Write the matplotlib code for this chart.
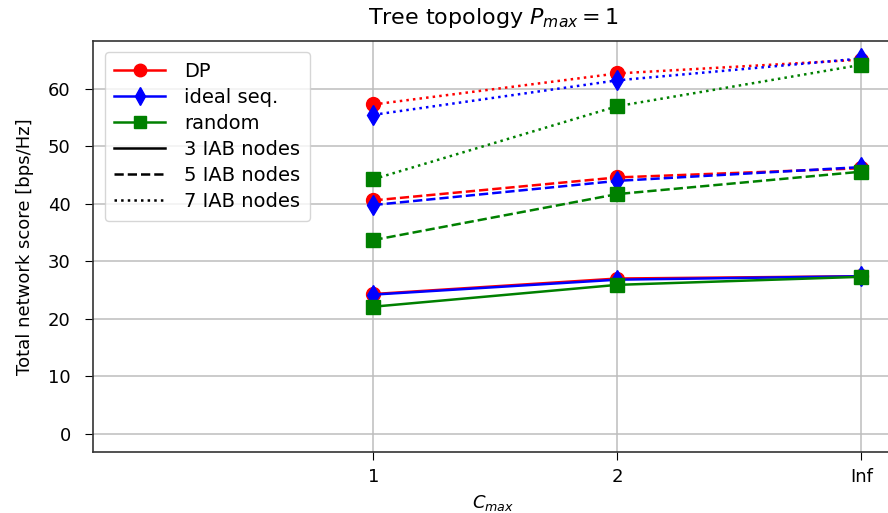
import numpy as np
import matplotlib
matplotlib.use('Agg')
import matplotlib.pyplot as plt
from matplotlib.lines import Line2D

cmax_labels = ['1', '2', 'Inf']
node_counts = [3, 5, 7]

# total network score per method, one list per IAB node count
dp = {3: [24.3, 27.0, 27.4], 5: [40.6, 44.6, 46.2], 7: [57.3, 62.7, 65.1]}
ideal = {3: [24.2, 26.8, 27.4], 5: [39.8, 44.0, 46.4], 7: [55.5, 61.5, 65.3]}
rnd = {3: [22.1, 25.9, 27.3], 5: [33.7, 41.7, 45.6], 7: [44.3, 57.0, 64.2]}

methods = [('DP', dp, 'red', 'o'),
           ('ideal seq.', ideal, 'blue', 'd'),
           ('random', rnd, 'green', 's')]
styles = {3: '-', 5: '--', 7: ':'}

fig = plt.figure(figsize=(8.88, 5.13), dpi=100)
ax = fig.add_axes([0.1047, 0.1183, 0.9010, 0.8024])

x = np.arange(len(cmax_labels))
for name, data, color, marker in methods:
    for n in node_counts:
        ax.plot(x, data[n], linestyle=styles[n], color=color, marker=marker,
                markersize=10, linewidth=1.8)

ax.set_xticks(x)
ax.set_xticklabels(cmax_labels)
ax.set_xlim(-1.15, 2.13)
ax.set_ylim(-3.25, 68.4)
ax.set_yticks(np.arange(0, 61, 10))
ax.tick_params(labelsize=13, length=6, pad=5)
ax.tick_params(axis='y', pad=10)
ax.grid(True, color='#bdbdbd', linewidth=1.1)
for s in ax.spines.values():
    s.set_linewidth(1.2)
    s.set_color('#333333')
ax.set_xlabel('$C_{max}$', fontsize=13, labelpad=5)
ax.set_ylabel('Total network score [bps/Hz]', fontsize=13, labelpad=10)
ax.set_title('Tree topology $P_{max} = 1$', fontsize=16, pad=12)

handles = [Line2D([], [], color=c, marker=m, markersize=9, linewidth=1.8, label=nm)
           for nm, _, c, m in methods]
handles += [Line2D([], [], color='black', linestyle=styles[n], linewidth=1.8,
                   label='%d IAB nodes' % n) for n in node_counts]
ax.legend(handles=handles, loc='upper left', fontsize=14, labelspacing=0.36,
          handlelength=2.6, handletextpad=1.0, borderaxespad=0.6, borderpad=0.5)

fig.savefig('out.png', dpi=100)
